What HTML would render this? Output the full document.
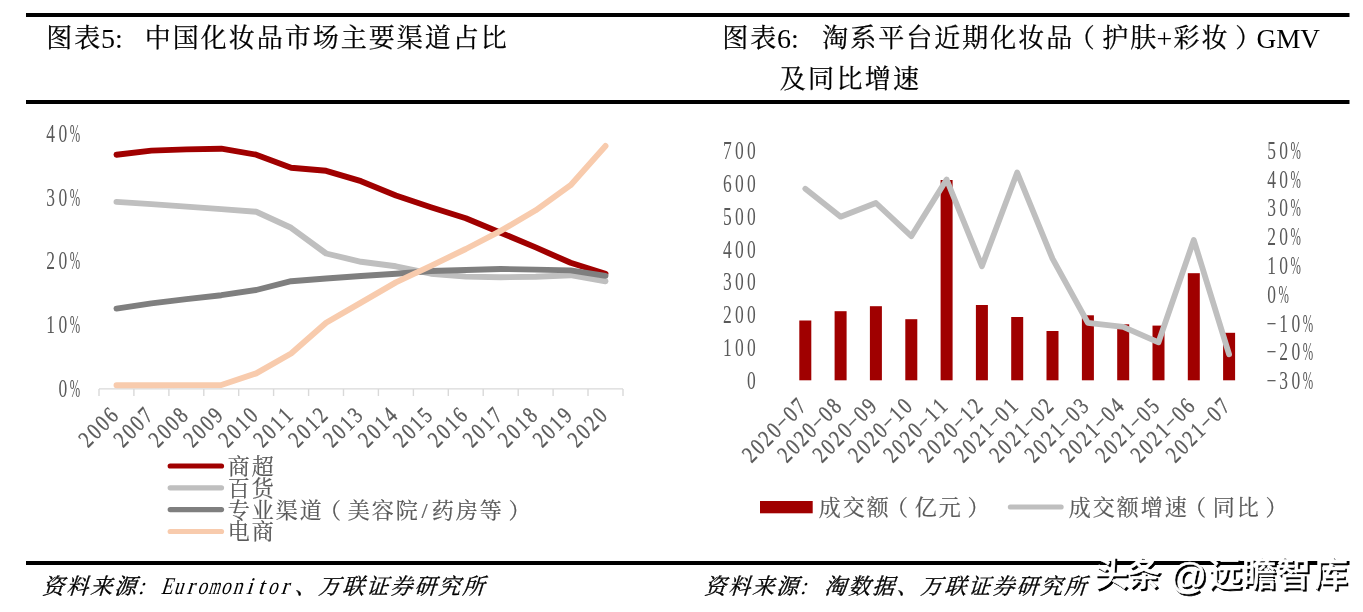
<!DOCTYPE html>
<html lang="zh-CN"><head><meta charset="utf-8"><title>图表5 / 图表6</title>
<style>
html,body{margin:0;padding:0;background:#fff}
body{width:1363px;height:612px;overflow:hidden;font-family:"Liberation Serif",serif}
svg{display:block;will-change:transform}
text{font-family:"Liberation Serif",serif}
.mono{font-family:"Liberation Mono",monospace}
text.cjk{font-family:"Liberation Serif","Noto Serif CJK SC",serif}
text.wm{font-family:"Liberation Sans","Noto Sans CJK SC",sans-serif}
</style></head><body>
<svg role="img" aria-label="图表5 中国化妆品市场主要渠道占比; 图表6 淘系平台近期化妆品GMV及同比增速" width="1363" height="612" viewBox="0 0 1363 612">
<g fill="#000"><rect x="26" y="13" width="1323.5" height="4"/><rect x="26" y="100" width="1323.5" height="4"/><rect x="26" y="561" width="1323.5" height="4"/></g>
<path d="M99 388.9H623 M99.0 388.9v7M133.9 388.9v7M168.9 388.9v7M203.8 388.9v7M238.7 388.9v7M273.6 388.9v7M308.6 388.9v7M343.5 388.9v7M378.4 388.9v7M413.4 388.9v7M448.3 388.9v7M483.2 388.9v7M518.2 388.9v7M553.1 388.9v7M588.0 388.9v7M623.0 388.9v7" fill="none" stroke="#d9d9d9" stroke-width="1.4"/>
<polyline points="116.5,154.7 151.4,150.6 186.4,149.4 221.3,148.7 256.2,154.7 291.1,167.7 326.1,170.8 361.0,181.2 395.9,195.5 430.9,207.2 465.8,218.3 500.7,232.7 535.7,247.4 570.6,262.8 605.5,273.7" fill="none" stroke="#a00000" stroke-width="5.9" stroke-linecap="round" stroke-linejoin="round"/>
<polyline points="116.5,201.9 151.4,204.1 186.4,206.6 221.3,209.1 256.2,211.7 291.1,227.8 326.1,253.5 361.0,261.8 395.9,266.3 430.9,273.7 465.8,276.6 500.7,277.2 535.7,276.8 570.6,275.2 605.5,281.3" fill="none" stroke="#bfbfbf" stroke-width="5.9" stroke-linecap="round" stroke-linejoin="round"/>
<polyline points="116.5,308.6 151.4,303.4 186.4,299.1 221.3,295.2 256.2,290.0 291.1,281.2 326.1,278.5 361.0,276.0 395.9,273.7 430.9,271.0 465.8,270.0 500.7,269.0 535.7,269.6 570.6,270.4 605.5,275.8" fill="none" stroke="#7f7f7f" stroke-width="5.9" stroke-linecap="round" stroke-linejoin="round"/>
<polyline points="116.5,385.3 151.4,385.2 186.4,385.1 221.3,385.0 256.2,373.4 291.1,353.5 326.1,322.7 361.0,302.6 395.9,282.4 430.9,265.9 465.8,249.0 500.7,230.9 535.7,210.3 570.6,185.2 605.5,146.0" fill="none" stroke="#f8cbad" stroke-width="5.9" stroke-linecap="round" stroke-linejoin="round"/>
<line x1="170.2" y1="466" x2="221.5" y2="466" stroke="#a00000" stroke-width="5.2" stroke-linecap="round"/>
<line x1="170.2" y1="487.8" x2="221.5" y2="487.8" stroke="#bfbfbf" stroke-width="5.2" stroke-linecap="round"/>
<line x1="170.2" y1="509.6" x2="221.5" y2="509.6" stroke="#7f7f7f" stroke-width="5.2" stroke-linecap="round"/>
<line x1="170.2" y1="531.5" x2="221.5" y2="531.5" stroke="#f8cbad" stroke-width="5.2" stroke-linecap="round"/>
<g fill="#a00000"><rect x="799.3" y="320.5" width="12" height="59.8"/><rect x="834.6" y="311.2" width="12" height="69.1"/><rect x="869.9" y="306.2" width="12" height="74.1"/><rect x="905.3" y="319.2" width="12" height="61.1"/><rect x="940.6" y="180.0" width="12" height="200.3"/><rect x="975.9" y="305.0" width="12" height="75.3"/><rect x="1011.2" y="317.0" width="12" height="63.3"/><rect x="1046.5" y="331.0" width="12" height="49.3"/><rect x="1081.9" y="315.3" width="12" height="65.0"/><rect x="1117.2" y="324.3" width="12" height="56.0"/><rect x="1152.5" y="325.6" width="12" height="54.7"/><rect x="1187.8" y="273.2" width="12" height="107.1"/><rect x="1223.1" y="332.8" width="12" height="47.5"/></g>
<polyline points="805.3,188.7 840.6,216.7 875.9,203.0 911.3,236.2 946.6,179.5 981.9,266.2 1017.2,172.5 1052.5,258.7 1087.9,322.8 1123.2,326.8 1158.5,342.3 1193.8,240.0 1229.1,354.3" fill="none" stroke="#bfbfbf" stroke-width="5.8" stroke-linecap="round" stroke-linejoin="round"/>
<rect x="760" y="501" width="52.7" height="12.3" fill="#a00000"/>
<line x1="1010.3" y1="507" x2="1061.2" y2="507" stroke="#bfbfbf" stroke-width="5" stroke-linecap="round"/>
<g aria-label="图表5: 中国化妆品市场主要渠道占比" fill="#000" stroke="#000" stroke-width="0.25" font-size="26" letter-spacing="2"><text class="cjk" x="46.3" y="46.86">图表</text><text class="cjk" x="144.8" y="46.86">中国化妆品市场主要渠道占比</text></g>
<text x="101" y="47.5" font-size="28" fill="#000">5:</text>
<g aria-label="图表6: 淘系平台近期化妆品（护肤+彩妆）GMV" fill="#000" stroke="#000" stroke-width="0.25" font-size="26" letter-spacing="2"><text class="cjk" x="722.3" y="46.86">图表</text><text class="cjk" x="822.3" y="46.86">淘系平台近期化妆品</text><text class="cjk" x="1068.8" y="46.86">（</text><text class="cjk" x="1102.3" y="46.86">护肤</text><text class="cjk" x="1173.6" y="46.86">彩妆</text><text class="cjk" x="1235.2" y="46.86">）</text></g>
<text x="777" y="47.5" font-size="28" fill="#000">6:</text>
<text x="1156.5" y="47.5" font-size="28" fill="#000">+</text>
<text x="1256.5" y="47.5" font-size="28" fill="#000" textLength="63.5" lengthAdjust="spacingAndGlyphs">GMV</text>
<g aria-label="及同比增速" fill="#000" stroke="#000" stroke-width="0.25" font-size="26" letter-spacing="2.3"><text class="cjk" x="779.8" y="87.86">及同比增速</text></g>
<g aria-label="商超" fill="#595959" stroke="#595959" stroke-width="0.2" font-size="22" letter-spacing="2"><text class="cjk" x="227.8" y="473.75">商超</text></g>
<g aria-label="百货" fill="#595959" stroke="#595959" stroke-width="0.2" font-size="22" letter-spacing="2"><text class="cjk" x="227.8" y="495.55">百货</text></g>
<g aria-label="专业渠道（美容院/药房等）" fill="#595959" stroke="#595959" stroke-width="0.2" font-size="22" letter-spacing="2"><text class="cjk" x="227.8" y="517.65">专业渠道</text><text class="cjk" x="319.1" y="517.65">（</text><text class="cjk" x="347.8" y="517.65">美容院</text><text class="cjk" x="421.5" y="517.65">/</text><text class="cjk" x="431.8" y="517.65">药房等</text><text class="cjk" x="508.6" y="517.65">）</text></g>
<g aria-label="电商" fill="#595959" stroke="#595959" stroke-width="0.2" font-size="22" letter-spacing="2"><text class="cjk" x="227.8" y="539.45">电商</text></g>
<g aria-label="成交额（亿元）" fill="#595959" stroke="#595959" stroke-width="0.2" font-size="22" letter-spacing="2"><text class="cjk" x="818.7" y="514.95">成交额</text><text class="cjk" x="886" y="514.95">（</text><text class="cjk" x="914.7" y="514.95">亿元</text><text class="cjk" x="967.5" y="514.95">）</text></g>
<g aria-label="成交额增速（同比）" fill="#595959" stroke="#595959" stroke-width="0.2" font-size="22" letter-spacing="2"><text class="cjk" x="1068.7" y="514.95">成交额增速</text><text class="cjk" x="1184" y="514.95">（</text><text class="cjk" x="1212.7" y="514.95">同比</text><text class="cjk" x="1265.5" y="514.95">）</text></g>
<g aria-label="资料来源: Euromonitor、万联证券研究所" fill="#000" stroke="#000" stroke-width="0.35" font-size="22" letter-spacing="2" transform="translate(0 594.45) skewX(-17.5)"><text class="cjk" x="42.1" y="0">资料来源</text><text class="cjk" x="294.5" y="0">、</text><text class="cjk" x="318.1" y="0">万联证券研究所</text></g>
<g aria-label="资料来源: 淘数据、万联证券研究所" fill="#000" stroke="#000" stroke-width="0.35" font-size="22" letter-spacing="2" transform="translate(0 594.45) skewX(-17.5)"><text class="cjk" x="704.1" y="0">资料来源</text><text class="cjk" x="824.1" y="0">淘数据</text><text class="cjk" x="896.5" y="0">、</text><text class="cjk" x="920.1" y="0">万联证券研究所</text></g>
<g aria-label="40%" font-size="25" fill="#595959" text-anchor="middle" font-family="Liberation Serif"><text transform="scale(0.7 1)" x="72.50 89.79" y="141.7">40</text><text transform="scale(0.5 1)" x="149.90" y="141.7">%</text></g>
<g aria-label="30%" font-size="25" fill="#595959" text-anchor="middle" font-family="Liberation Serif"><text transform="scale(0.7 1)" x="72.50 89.79" y="205.55">30</text><text transform="scale(0.5 1)" x="149.90" y="205.55">%</text></g>
<g aria-label="20%" font-size="25" fill="#595959" text-anchor="middle" font-family="Liberation Serif"><text transform="scale(0.7 1)" x="72.50 89.79" y="269.4">20</text><text transform="scale(0.5 1)" x="149.90" y="269.4">%</text></g>
<g aria-label="10%" font-size="25" fill="#595959" text-anchor="middle" font-family="Liberation Serif"><text transform="scale(0.7 1)" x="72.50 89.79" y="333.25">10</text><text transform="scale(0.5 1)" x="149.90" y="333.25">%</text></g>
<g aria-label="0%" font-size="25" fill="#595959" text-anchor="middle" font-family="Liberation Serif"><text transform="scale(0.7 1)" x="89.79" y="397.1">0</text><text transform="scale(0.5 1)" x="149.90" y="397.1">%</text></g>
<g aria-label="700" font-size="25" fill="#595959" text-anchor="middle" font-family="Liberation Serif"><text transform="scale(0.7 1)" x="1038.93 1056.21 1073.50" y="159">700</text></g>
<g aria-label="600" font-size="25" fill="#595959" text-anchor="middle" font-family="Liberation Serif"><text transform="scale(0.7 1)" x="1038.93 1056.21 1073.50" y="191.84">600</text></g>
<g aria-label="500" font-size="25" fill="#595959" text-anchor="middle" font-family="Liberation Serif"><text transform="scale(0.7 1)" x="1038.93 1056.21 1073.50" y="224.68">500</text></g>
<g aria-label="400" font-size="25" fill="#595959" text-anchor="middle" font-family="Liberation Serif"><text transform="scale(0.7 1)" x="1038.93 1056.21 1073.50" y="257.52">400</text></g>
<g aria-label="300" font-size="25" fill="#595959" text-anchor="middle" font-family="Liberation Serif"><text transform="scale(0.7 1)" x="1038.93 1056.21 1073.50" y="290.36">300</text></g>
<g aria-label="200" font-size="25" fill="#595959" text-anchor="middle" font-family="Liberation Serif"><text transform="scale(0.7 1)" x="1038.93 1056.21 1073.50" y="323.2">200</text></g>
<g aria-label="100" font-size="25" fill="#595959" text-anchor="middle" font-family="Liberation Serif"><text transform="scale(0.7 1)" x="1038.93 1056.21 1073.50" y="356.04">100</text></g>
<g aria-label="0" font-size="25" fill="#595959" text-anchor="middle" font-family="Liberation Serif"><text transform="scale(0.7 1)" x="1073.50" y="388.88">0</text></g>
<g aria-label="50%" font-size="25" fill="#595959" text-anchor="middle" font-family="Liberation Serif"><text transform="scale(0.7 1)" x="1816.50 1833.79" y="158.8">50</text><text transform="scale(0.5 1)" x="2591.50" y="158.8">%</text></g>
<g aria-label="40%" font-size="25" fill="#595959" text-anchor="middle" font-family="Liberation Serif"><text transform="scale(0.7 1)" x="1816.50 1833.79" y="187.6">40</text><text transform="scale(0.5 1)" x="2591.50" y="187.6">%</text></g>
<g aria-label="30%" font-size="25" fill="#595959" text-anchor="middle" font-family="Liberation Serif"><text transform="scale(0.7 1)" x="1816.50 1833.79" y="216.4">30</text><text transform="scale(0.5 1)" x="2591.50" y="216.4">%</text></g>
<g aria-label="20%" font-size="25" fill="#595959" text-anchor="middle" font-family="Liberation Serif"><text transform="scale(0.7 1)" x="1816.50 1833.79" y="245.2">20</text><text transform="scale(0.5 1)" x="2591.50" y="245.2">%</text></g>
<g aria-label="10%" font-size="25" fill="#595959" text-anchor="middle" font-family="Liberation Serif"><text transform="scale(0.7 1)" x="1816.50 1833.79" y="274">10</text><text transform="scale(0.5 1)" x="2591.50" y="274">%</text></g>
<g aria-label="0%" font-size="25" fill="#595959" text-anchor="middle" font-family="Liberation Serif"><text transform="scale(0.7 1)" x="1816.50" y="302.8">0</text><text transform="scale(0.5 1)" x="2567.30" y="302.8">%</text></g>
<g aria-label="−10%" font-size="25" fill="#595959" text-anchor="middle" font-family="Liberation Serif"><text transform="scale(0.7 1)" x="1816.50 1833.79 1851.07" y="331.6">−10</text><text transform="scale(0.5 1)" x="2615.70" y="331.6">%</text></g>
<g aria-label="−20%" font-size="25" fill="#595959" text-anchor="middle" font-family="Liberation Serif"><text transform="scale(0.7 1)" x="1816.50 1833.79 1851.07" y="360.4">−20</text><text transform="scale(0.5 1)" x="2615.70" y="360.4">%</text></g>
<g aria-label="−30%" font-size="25" fill="#595959" text-anchor="middle" font-family="Liberation Serif"><text transform="scale(0.7 1)" x="1816.50 1833.79 1851.07" y="389.2">−30</text><text transform="scale(0.5 1)" x="2615.70" y="389.2">%</text></g>
<text transform="translate(120.1 416.4) rotate(-45) scale(0.8 1)" x="-50.75 -36.25 -21.75 -7.25" y="0" font-size="23.5" fill="#595959" stroke="#595959" stroke-width="0.3" text-anchor="middle">2006</text>
<text transform="translate(155.0 416.4) rotate(-45) scale(0.8 1)" x="-50.75 -36.25 -21.75 -7.25" y="0" font-size="23.5" fill="#595959" stroke="#595959" stroke-width="0.3" text-anchor="middle">2007</text>
<text transform="translate(190.0 416.4) rotate(-45) scale(0.8 1)" x="-50.75 -36.25 -21.75 -7.25" y="0" font-size="23.5" fill="#595959" stroke="#595959" stroke-width="0.3" text-anchor="middle">2008</text>
<text transform="translate(224.9 416.4) rotate(-45) scale(0.8 1)" x="-50.75 -36.25 -21.75 -7.25" y="0" font-size="23.5" fill="#595959" stroke="#595959" stroke-width="0.3" text-anchor="middle">2009</text>
<text transform="translate(259.8 416.4) rotate(-45) scale(0.8 1)" x="-50.75 -36.25 -21.75 -7.25" y="0" font-size="23.5" fill="#595959" stroke="#595959" stroke-width="0.3" text-anchor="middle">2010</text>
<text transform="translate(294.8 416.4) rotate(-45) scale(0.8 1)" x="-50.75 -36.25 -21.75 -7.25" y="0" font-size="23.5" fill="#595959" stroke="#595959" stroke-width="0.3" text-anchor="middle">2011</text>
<text transform="translate(329.7 416.4) rotate(-45) scale(0.8 1)" x="-50.75 -36.25 -21.75 -7.25" y="0" font-size="23.5" fill="#595959" stroke="#595959" stroke-width="0.3" text-anchor="middle">2012</text>
<text transform="translate(364.6 416.4) rotate(-45) scale(0.8 1)" x="-50.75 -36.25 -21.75 -7.25" y="0" font-size="23.5" fill="#595959" stroke="#595959" stroke-width="0.3" text-anchor="middle">2013</text>
<text transform="translate(399.5 416.4) rotate(-45) scale(0.8 1)" x="-50.75 -36.25 -21.75 -7.25" y="0" font-size="23.5" fill="#595959" stroke="#595959" stroke-width="0.3" text-anchor="middle">2014</text>
<text transform="translate(434.5 416.4) rotate(-45) scale(0.8 1)" x="-50.75 -36.25 -21.75 -7.25" y="0" font-size="23.5" fill="#595959" stroke="#595959" stroke-width="0.3" text-anchor="middle">2015</text>
<text transform="translate(469.4 416.4) rotate(-45) scale(0.8 1)" x="-50.75 -36.25 -21.75 -7.25" y="0" font-size="23.5" fill="#595959" stroke="#595959" stroke-width="0.3" text-anchor="middle">2016</text>
<text transform="translate(504.3 416.4) rotate(-45) scale(0.8 1)" x="-50.75 -36.25 -21.75 -7.25" y="0" font-size="23.5" fill="#595959" stroke="#595959" stroke-width="0.3" text-anchor="middle">2017</text>
<text transform="translate(539.3 416.4) rotate(-45) scale(0.8 1)" x="-50.75 -36.25 -21.75 -7.25" y="0" font-size="23.5" fill="#595959" stroke="#595959" stroke-width="0.3" text-anchor="middle">2018</text>
<text transform="translate(574.2 416.4) rotate(-45) scale(0.8 1)" x="-50.75 -36.25 -21.75 -7.25" y="0" font-size="23.5" fill="#595959" stroke="#595959" stroke-width="0.3" text-anchor="middle">2019</text>
<text transform="translate(609.1 416.4) rotate(-45) scale(0.8 1)" x="-50.75 -36.25 -21.75 -7.25" y="0" font-size="23.5" fill="#595959" stroke="#595959" stroke-width="0.3" text-anchor="middle">2020</text>
<text transform="translate(808.1 407.0) rotate(-45) scale(0.8 1)" x="-94.25 -79.75 -65.25 -50.75 -36.25 -21.75 -7.25" y="0" font-size="23.5" fill="#595959" stroke="#595959" stroke-width="0.3" text-anchor="middle">2020−07</text>
<text transform="translate(843.4 407.0) rotate(-45) scale(0.8 1)" x="-94.25 -79.75 -65.25 -50.75 -36.25 -21.75 -7.25" y="0" font-size="23.5" fill="#595959" stroke="#595959" stroke-width="0.3" text-anchor="middle">2020−08</text>
<text transform="translate(878.7 407.0) rotate(-45) scale(0.8 1)" x="-94.25 -79.75 -65.25 -50.75 -36.25 -21.75 -7.25" y="0" font-size="23.5" fill="#595959" stroke="#595959" stroke-width="0.3" text-anchor="middle">2020−09</text>
<text transform="translate(914.1 407.0) rotate(-45) scale(0.8 1)" x="-94.25 -79.75 -65.25 -50.75 -36.25 -21.75 -7.25" y="0" font-size="23.5" fill="#595959" stroke="#595959" stroke-width="0.3" text-anchor="middle">2020−10</text>
<text transform="translate(949.4 407.0) rotate(-45) scale(0.8 1)" x="-94.25 -79.75 -65.25 -50.75 -36.25 -21.75 -7.25" y="0" font-size="23.5" fill="#595959" stroke="#595959" stroke-width="0.3" text-anchor="middle">2020−11</text>
<text transform="translate(984.7 407.0) rotate(-45) scale(0.8 1)" x="-94.25 -79.75 -65.25 -50.75 -36.25 -21.75 -7.25" y="0" font-size="23.5" fill="#595959" stroke="#595959" stroke-width="0.3" text-anchor="middle">2020−12</text>
<text transform="translate(1020.0 407.0) rotate(-45) scale(0.8 1)" x="-94.25 -79.75 -65.25 -50.75 -36.25 -21.75 -7.25" y="0" font-size="23.5" fill="#595959" stroke="#595959" stroke-width="0.3" text-anchor="middle">2021−01</text>
<text transform="translate(1055.3 407.0) rotate(-45) scale(0.8 1)" x="-94.25 -79.75 -65.25 -50.75 -36.25 -21.75 -7.25" y="0" font-size="23.5" fill="#595959" stroke="#595959" stroke-width="0.3" text-anchor="middle">2021−02</text>
<text transform="translate(1090.7 407.0) rotate(-45) scale(0.8 1)" x="-94.25 -79.75 -65.25 -50.75 -36.25 -21.75 -7.25" y="0" font-size="23.5" fill="#595959" stroke="#595959" stroke-width="0.3" text-anchor="middle">2021−03</text>
<text transform="translate(1126.0 407.0) rotate(-45) scale(0.8 1)" x="-94.25 -79.75 -65.25 -50.75 -36.25 -21.75 -7.25" y="0" font-size="23.5" fill="#595959" stroke="#595959" stroke-width="0.3" text-anchor="middle">2021−04</text>
<text transform="translate(1161.3 407.0) rotate(-45) scale(0.8 1)" x="-94.25 -79.75 -65.25 -50.75 -36.25 -21.75 -7.25" y="0" font-size="23.5" fill="#595959" stroke="#595959" stroke-width="0.3" text-anchor="middle">2021−05</text>
<text transform="translate(1196.6 407.0) rotate(-45) scale(0.8 1)" x="-94.25 -79.75 -65.25 -50.75 -36.25 -21.75 -7.25" y="0" font-size="23.5" fill="#595959" stroke="#595959" stroke-width="0.3" text-anchor="middle">2021−06</text>
<text transform="translate(1231.9 407.0) rotate(-45) scale(0.8 1)" x="-94.25 -79.75 -65.25 -50.75 -36.25 -21.75 -7.25" y="0" font-size="23.5" fill="#595959" stroke="#595959" stroke-width="0.3" text-anchor="middle">2021−07</text>
<g aria-label=":" transform="translate(0 593.8) skewX(-17.5)" font-size="24" fill="#000" text-anchor="middle"><text transform="scale(0.95 1)" x="148.31" y="0">:</text></g>
<g aria-label="Euromonitor" transform="translate(0 593.8) skewX(-17.5)" font-size="24" fill="#000" text-anchor="middle"><text transform="scale(0.8 1)" x="207.99 222.71 252.16 281.61 296.34 340.51" y="0">Euoono</text><text transform="scale(0.95 1)" x="199.95 261.95 274.35 299.15" y="0">ritr</text><text transform="scale(0.6 1)" x="355.85" y="0">m</text></g>
<g aria-label=":" transform="translate(0 593.8) skewX(-17.5)" font-size="24" fill="#000" text-anchor="middle"><text transform="scale(0.95 1)" x="845.15" y="0">:</text></g>
<g aria-label="头条 @远瞻智库" stroke-width="0.5" stroke-linejoin="round" font-weight="500">
<g fill="#000" stroke="#000"><text class="wm" font-size="34" x="1095.9 1128.7" y="588.4">头条</text><text class="wm" font-size="34" x="1209.9 1243.9 1278.4 1315.6" y="588.4">远瞻智库</text><text class="wm" font-size="37" x="1171.5" y="590.6">@</text></g>
<g fill="#fff" stroke="#fff"><text class="wm" font-size="34" x="1094 1126.8" y="586.3">头条</text><text class="wm" font-size="34" x="1208 1242 1276.5 1313.7" y="586.3">远瞻智库</text><text class="wm" font-size="37" x="1169.6" y="588.5">@</text></g>
</g>
</svg>
</body></html>
